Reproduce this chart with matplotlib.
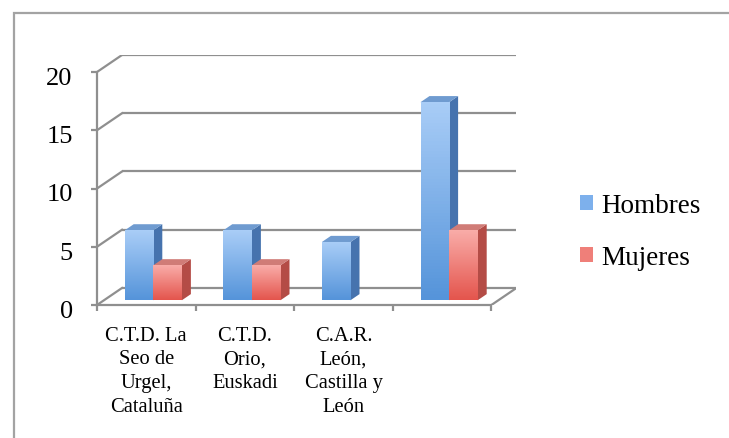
"""Excel-style 3D clustered column chart: Hombres / Mujeres per centro."""

import matplotlib

matplotlib.use("Agg")
import matplotlib.pyplot as plt
import numpy as np
from matplotlib.colors import LinearSegmentedColormap
from matplotlib.patches import Patch, Polygon, Rectangle
from matplotlib.transforms import ScaledTranslation

categories = [
    "C.T.D. La\nSeo de\nUrgel,\nCataluña",
    "C.T.D.\nOrio,\nEuskadi",
    "C.A.R.\nLeón,\nCastilla y\nLeón",
    "",
]
hombres = [6, 6, 5, 17]
mujeres = [3, 3, 0, 6]
y_ticks = [0, 5, 10, 15, 20]

FONT = "Liberation Serif"
GRID = "#8f8f8f"
DX, DY = 0.2535, 1.46  # depth of the floor, in data units
F0, F1 = 0.28, 0.64  # bar front / back as a fraction of the depth
BAR_W = 0.29

STYLES = {
    "Hombres": dict(light="#a9cdf7", dark="#5594da", side="#4673ae", top="#6f9bd0",
                    legend="#7db0ec"),
    "Mujeres": dict(light="#f9aca8", dark="#e4554d", side="#b44c46", top="#d07c77",
                    legend="#ef7f79"),
}

W, H = 729, 439
plt.rcParams["font.family"] = FONT
fig = plt.figure(figsize=(W / 100, H / 100), dpi=100)

# axes placed so that x=0..4+DX and y=0..20+DY match the plot area
left_px, right_px = 97, 516.4
bottom_px, top_px = 306, 73 - 17
ax = fig.add_axes(
    [left_px / W, 1 - bottom_px / H, (right_px - left_px) / W, (bottom_px - top_px) / H]
)
ax.patch.set_visible(False)

for side in ("top", "right"):
    ax.spines[side].set_visible(False)
for side in ("left", "bottom"):
    ax.spines[side].set_color(GRID)
    ax.spines[side].set_linewidth(1.6)
ax.spines["left"].set_bounds(0, 20)
ax.spines["bottom"].set_bounds(0, 4)

ax.set_yticks(y_ticks)
ax.set_yticklabels([str(v) for v in y_ticks], fontsize=19)
ax.tick_params(axis="y", direction="out", length=4.5, width=1.6, color=GRID, pad=13)
shift = ScaledTranslation(0, -2.5 / 72, fig.dpi_scale_trans)
for lab in ax.get_yticklabels():
    lab.set_transform(lab.get_transform() + shift)

ax.set_xticks(np.arange(5))
ax.set_xticklabels([])
ax.tick_params(axis="x", which="major", direction="out", length=4.5, width=1.6, color=GRID)
ax.set_xticks(np.arange(4) + 0.5, minor=True)
ax.set_xticklabels(categories, minor=True, fontsize=14.8, linespacing=1.33, va="top")
ax.tick_params(axis="x", which="minor", length=0, pad=15)

# back wall gridlines, left wall diagonals, floor
for v in y_ticks:
    ax.plot([DX, 4 + DX], [v + DY, v + DY], color=GRID, lw=1.6, solid_capstyle="butt")
    ax.plot([0, DX], [v, v + DY], color=GRID, lw=1.6)
ax.plot([4, 4 + DX], [0, DY], color=GRID, lw=1.6)


def draw_series(offset, values, st, label):
    x_front = np.arange(len(values)) + offset + F0 * DX
    bars = ax.bar(
        x_front, values, BAR_W, bottom=F0 * DY, align="edge",
        color=st["dark"], linewidth=0, label=label, zorder=3,
    )
    cmap = LinearSegmentedColormap.from_list(label, [st["dark"], st["light"]])
    grad = np.linspace(0, 1, 64).reshape(-1, 1)
    ddx, ddy = (F1 - F0) * DX, (F1 - F0) * DY
    for x0, v, bar in zip(x_front, values, bars):
        if v <= 0:
            continue
        x1 = x0 + BAR_W
        y0, y1 = F0 * DY, F0 * DY + v
        im = ax.imshow(
            grad, cmap=cmap, origin="lower", aspect="auto",
            extent=(x0, x1, y0, y1), zorder=3.1,
        )
        im.set_clip_path(bar)
        ax.add_patch(Polygon(
            [(x1, y0), (x1 + ddx, y0 + ddy), (x1 + ddx, y1 + ddy), (x1, y1)],
            closed=True, facecolor=st["side"], edgecolor="none", zorder=3,
        ))
        ax.add_patch(Polygon(
            [(x0, y1), (x0 + ddx, y1 + ddy), (x1 + ddx, y1 + ddy), (x1, y1)],
            closed=True, facecolor=st["top"], edgecolor="none", zorder=3,
        ))


draw_series(0.21, hombres, STYLES["Hombres"], "Hombres")
draw_series(0.21 + BAR_W, mujeres, STYLES["Mujeres"], "Mujeres")

ax.set_xlim(0, 4 + DX)
ax.set_ylim(0, 20 + DY)

handles = [
    Patch(facecolor=STYLES[k]["legend"], edgecolor="none", label=k) for k in STYLES
]
fig.legend(
    handles=handles, loc="center left", bbox_to_anchor=(580 / W, 1 - 232.5 / H),
    frameon=False, fontsize=19.5, handlelength=0.48, handleheight=0.48,
    handletextpad=0.3, labelspacing=0.98, borderpad=0, borderaxespad=0,
)

fig.add_artist(Rectangle(
    (14 / W, -0.1), 1.2, 1.1 - 13.5 / H, transform=fig.transFigure,
    facecolor="none", edgecolor="#a3a3a3", lw=1.6,
))

fig.savefig("out.png", dpi=100)
